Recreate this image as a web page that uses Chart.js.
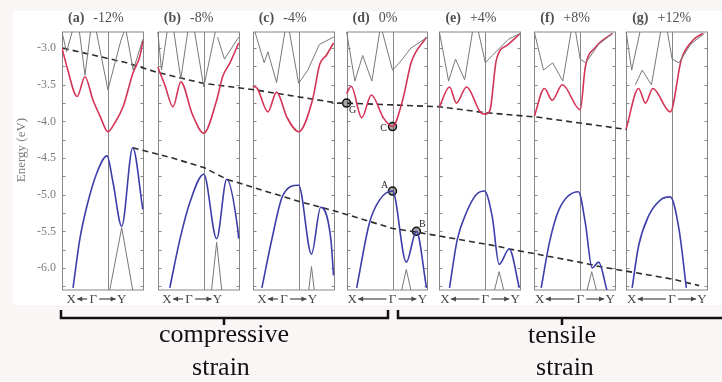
<!DOCTYPE html>
<html>
<head>
<meta charset="utf-8">
<script src="https://cdn.jsdelivr.net/npm/chart.js@4.4.1/dist/chart.umd.min.js"></script>
<style>
  html, body { margin: 0; padding: 0; background: #fbf6f6; }
  #wrap { position: relative; width: 722px; height: 382px; overflow: hidden; }
  #fig { position: absolute; left: 13px; top: 11px; width: 709px; height: 294px; background: #fff; }
  #c { position: absolute; left: 0; top: 0; }
  .lbl { position: absolute; width: 200px; text-align: center; font-family: "Liberation Serif", serif; font-size: 26px; line-height: 1; color: #111; }
</style>
</head>
<body>
<div id="wrap">
  <div id="fig"></div>
  <canvas id="c" width="722" height="382"></canvas>
  <div class="lbl" style="left:124px;top:321px">compressive</div>
  <div class="lbl" style="left:121px;top:354px">strain</div>
  <div class="lbl" style="left:462px;top:322px">tensile</div>
  <div class="lbl" style="left:465px;top:354px">strain</div>
</div>
<script>
// ─── Data ────────────────────────────────────────────────────────────────
// k runs X = 0 → Γ = 1 → Y = 1.76 inside each panel, energies in eV
const panelTitles = ['(a)', '(b)', '(c)', '(d)', '(e)', '(f)', '(g)'];
const strainLabels = ['-12%', '-8%', '-4%', '0%', '+4%', '+8%', '+12%'];
const energyTicks = [-3.0, -3.5, -4.0, -4.5, -5.0, -5.5, -6.0];

// valence band (blue)
const vbA = [[0.24,-6.27],[0.39,-5.6],[0.54,-5.16],[0.76,-4.70],[0.98,-4.47],[1.11,-4.83],[1.30,-5.43],[1.54,-4.36],[1.76,-5.2]];
const vbB = [[0.26,-6.27],[0.48,-5.61],[0.70,-5.1],[1.0,-4.72],[1.28,-5.6],[1.50,-4.79],[1.74,-5.47],[1.76,-5.6]];
const vbC = [[0.2,-6.27],[0.43,-5.57],[0.65,-5.02],[1.0,-4.87],[1.28,-5.81],[1.48,-5.17],[1.70,-5.6],[1.76,-6.1]];
const vbD = [[0.22,-6.27],[0.5,-5.38],[0.72,-5.07],[1.0,-4.95],[1.3,-5.92],[1.52,-5.5],[1.74,-6.27]];
const vbE = [[0.22,-6.27],[0.39,-5.61],[0.59,-5.24],[0.8,-5.0],[0.98,-4.95],[1.15,-5.3],[1.3,-5.95],[1.52,-5.74],[1.74,-6.27]];
const vbF = [[0.15,-6.27],[0.33,-5.65],[0.54,-5.2],[0.96,-4.96],[1.11,-5.38],[1.26,-6.0],[1.4,-5.92],[1.58,-6.3]];
const vbG = [[0.13,-6.27],[0.27,-5.7],[0.48,-5.3],[0.75,-5.07],[0.96,-5.03],[1.15,-5.47],[1.31,-6.27]];

// conduction band (red)
const cbA = [[0,-3.0],[0.11,-3.26],[0.33,-3.66],[0.5,-3.39],[0.67,-3.7],[0.83,-3.93],[1.0,-4.14],[1.15,-4.02],[1.33,-3.8],[1.54,-3.35],[1.7,-3.1],[1.76,-2.9]];
const cbB = [[0,-3.26],[0.15,-3.5],[0.33,-3.80],[0.50,-3.46],[0.75,-3.9],[1.0,-4.16],[1.28,-3.71],[1.41,-3.39],[1.57,-3.2],[1.76,-2.93]];
const cbC = [[0,-3.52],[0.1,-3.55],[0.33,-3.87],[0.52,-3.60],[0.75,-3.95],[1.0,-4.14],[1.3,-3.71],[1.46,-3.22],[1.6,-3.1],[1.76,-2.93]];
const cbD = [[0,-3.62],[0.1,-3.52],[0.33,-3.95],[0.54,-3.64],[0.8,-3.95],[1.0,-4.07],[1.22,-3.71],[1.41,-3.19],[1.74,-2.85]];
const cbE = [[0,-3.8],[0.22,-3.53],[0.37,-3.75],[0.59,-3.53],[0.9,-3.88],[1.0,-3.9],[1.1,-3.85],[1.24,-3.16],[1.5,-2.95],[1.76,-2.8]];
const cbF = [[0,-3.93],[0.22,-3.55],[0.39,-3.71],[0.61,-3.5],[1.0,-3.84],[1.11,-3.26],[1.33,-2.99],[1.70,-2.8]];
const cbG = [[0,-4.1],[0.27,-3.55],[0.42,-3.75],[0.58,-3.55],[0.96,-3.87],[1.2,-3.16],[1.46,-2.89],[1.67,-2.8]];

// higher conduction bands (grey)
const gtA = [[[0,-2.78],[0.1,-3.05],[0.22,-2.78]], [[0.38,-2.78],[0.5,-3.37],[0.62,-2.78]], [[0.75,-2.78],[1.0,-3.57],[1.28,-2.9],[1.35,-2.78]], [[1.4,-2.78],[1.55,-3.3],[1.76,-2.88]]];
const gtB = [[[0,-2.78],[0.08,-3.3],[0.2,-2.78]], [[0.35,-2.78],[0.5,-3.42],[0.65,-2.78]], [[0.8,-2.78],[1.0,-3.53],[1.25,-2.78]], [[1.3,-2.85],[1.45,-3.15],[1.76,-2.85]]];
const gtC = [[[0.05,-2.78],[0.25,-3.2],[0.33,-3.05],[0.52,-3.47],[0.7,-2.78]], [[0.8,-2.78],[1.0,-3.48],[1.2,-3.3],[1.45,-2.95],[1.76,-2.85]]];
const gtD = [[[0,-2.78],[0.18,-3.45],[0.35,-3.1],[0.55,-3.45],[0.72,-2.78]], [[0.78,-2.78],[1.0,-3.3],[1.15,-3.2],[1.4,-3.0],[1.76,-2.85]]];
const gtE = [[[0,-2.78],[0.2,-3.45],[0.35,-3.15],[0.55,-3.43],[0.72,-2.78]], [[0.85,-2.78],[1.0,-3.2],[1.15,-3.1],[1.5,-2.88],[1.76,-2.8]]];
const gtF = [[[0,-2.78],[0.2,-3.3],[0.4,-3.2],[0.62,-3.45],[0.8,-2.78]], [[0.9,-2.78],[1.0,-3.15],[1.12,-3.2],[1.4,-2.95],[1.7,-2.8]]];
const gtG = [[[0,-2.78],[0.12,-3.3],[0.3,-2.78]], [[0.2,-3.5],[0.35,-3.3],[0.55,-3.5],[0.75,-2.78]], [[0.9,-2.78],[1.0,-3.15],[1.15,-3.2],[1.4,-2.95],[1.7,-2.8]]];

// lower valence band (grey)
const glA = [[[1.04,-6.3],[1.30,-5.45],[1.54,-6.3]]];
const glB = [[[1.17,-6.3],[1.28,-5.65],[1.39,-6.3]]];
const glC = [[[1.22,-6.3],[1.28,-5.98],[1.34,-6.3]]];
const glD = [[[1.2,-6.3],[1.3,-6.02],[1.4,-6.3]]];
const glE = [[[1.2,-6.3],[1.3,-6.05],[1.4,-6.3]]];
const glF = [[[1.15,-6.3],[1.25,-6.05],[1.35,-6.3]]];
const glG = [];

// dashed guides across all panels: [figure x, E]
const cbmGuide = [[0.02,-3.0],[1.41,-3.2],[2.07,-3.33],[3.07,-3.48],[4.2,-3.57],[6.0,-3.75],[6.2,-3.75],[8.22,-3.80],[9.2,-3.88],[10.33,-3.94],[12.3,-4.11]];
const vbmGuide = [[1.54,-4.36],[2.41,-4.50],[3.09,-4.63],[3.59,-4.79],[5.15,-5.09],[5.63,-5.17],[6.04,-5.24],[7.2,-5.46],[7.72,-5.51],[9.46,-5.70],[9.74,-5.74],[11.26,-5.92],[11.7,-5.98],[13.28,-6.15],[13.87,-6.24]];

// marked points in panel (d): label, k, E
const markLabels = ['G', 'C', 'A', 'B'];
const markK = [0, 1.0, 1.0, 1.52];
const markE = [-3.75, -4.07, -4.95, -5.5];

// ─── Layout ─────────────────────────────────────────────────────────────
const panelOffsets = [0, 2.087, 4.152, 6.196, 8.217, 10.283, 12.283];
const kY = 1.76;
const E_MIN = -6.3, E_MAX = -2.78;
const BLUE = 'rgb(62,62,170)', RED = 'rgb(212,52,86)', GREY = 'rgb(120,120,120)';
const SERIF = '"Liberation Serif", serif';

const vbAll = [vbA, vbB, vbC, vbD, vbE, vbF, vbG];
const cbAll = [cbA, cbB, cbC, cbD, cbE, cbF, cbG];
const gtAll = [gtA, gtB, gtC, gtD, gtE, gtF, gtG];
const glAll = [glA, glB, glC, glD, glE, glF, glG];

function toXY(i, pts) {
  return pts.map(p => ({ x: panelOffsets[i] + p[0], y: p[1] }));
}

function lineSet(data, color, width, smooth) {
  return {
    data, showLine: true, borderColor: color, borderWidth: width,
    pointRadius: 0, fill: false,
    cubicInterpolationMode: smooth ? 'monotone' : 'default', tension: 0,
  };
}

const datasets = [];
for (let i = 0; i < 7; i++) {
  gtAll[i].forEach(seg => datasets.push(lineSet(toXY(i, seg), GREY, 1, false)));
  glAll[i].forEach(seg => datasets.push(lineSet(toXY(i, seg), GREY, 1, false)));
  datasets.push(lineSet(toXY(i, cbAll[i]), RED, 1.6, true));
  datasets.push(lineSet(toXY(i, vbAll[i]), BLUE, 1.6, true));
}
[cbmGuide, vbmGuide].forEach(g => {
  datasets.push({ ...lineSet(g.map(p => ({ x: p[0], y: p[1] })), 'rgb(45,45,45)', 1.6, false), borderDash: [6, 4] });
});
datasets.push({
  data: markK.map((k, j) => ({ x: panelOffsets[3] + k, y: markE[j] })),
  showLine: false, pointRadius: 4, pointBorderWidth: 1.5,
  pointBorderColor: '#111', pointBackgroundColor: 'rgba(60,60,60,0.45)',
});

// ─── Panel frames, ticks and labels ─────────────────────────────────────
function arrow(ctx, x1, x2, y) {
  const dir = Math.sign(x2 - x1);
  ctx.beginPath(); ctx.moveTo(x1, y); ctx.lineTo(x2, y); ctx.stroke();
  ctx.beginPath(); ctx.moveTo(x2, y); ctx.lineTo(x2 - dir * 5, y - 2.5); ctx.lineTo(x2 - dir * 5, y + 2.5); ctx.closePath(); ctx.fill();
}

const framePlugin = {
  id: 'frames',
  beforeDatasetsDraw(chart) {
    const { ctx, scales: { x, y } } = chart;
    const top = y.getPixelForValue(E_MAX), bot = y.getPixelForValue(E_MIN);
    ctx.save();
    ctx.strokeStyle = 'rgb(135,135,135)';
    ctx.lineWidth = 1;
    panelOffsets.forEach(off => {
      const l = Math.round(x.getPixelForValue(off)) + 0.5;
      const r = Math.round(x.getPixelForValue(off + kY)) + 0.5;
      const g = Math.round(x.getPixelForValue(off + 1)) + 0.5;
      ctx.strokeRect(l, top, r - l, bot - top);
      ctx.beginPath(); ctx.moveTo(g, top); ctx.lineTo(g, bot); ctx.stroke();
      for (let e = -3.0; e >= -6.25; e -= 0.25) {
        const py = Math.round(y.getPixelForValue(e)) + 0.5;
        ctx.beginPath();
        ctx.moveTo(l, py); ctx.lineTo(l + 3, py);
        ctx.moveTo(r, py); ctx.lineTo(r - 3, py);
        ctx.stroke();
      }
    });
    ctx.restore();
  },
  afterDraw(chart) {
    const { ctx, scales: { x, y } } = chart;
    ctx.save();
    // energy ticks
    ctx.fillStyle = 'rgb(125,125,125)';
    ctx.font = '12px ' + SERIF;
    ctx.textAlign = 'right'; ctx.textBaseline = 'middle';
    energyTicks.forEach(e => ctx.fillText(e.toFixed(1), 56, y.getPixelForValue(e)));
    ctx.save();
    ctx.translate(22, 150); ctx.rotate(-Math.PI / 2);
    ctx.textAlign = 'center';
    ctx.font = '13px ' + SERIF;
    ctx.fillText('Energy (eV)', 0, 0);
    ctx.restore();

    // panel titles and k labels
    ctx.textBaseline = 'alphabetic';
    panelOffsets.forEach((off, i) => {
      const l = x.getPixelForValue(off);
      ctx.fillStyle = 'rgb(80,80,80)';
      ctx.textAlign = 'left';
      ctx.font = 'bold 14px ' + SERIF;
      ctx.fillText(panelTitles[i], l + 6, 22);
      const w = ctx.measureText(panelTitles[i]).width;
      ctx.font = '14px ' + SERIF;
      ctx.fillText(strainLabels[i], l + 6 + w + 9, 22);

      const pos = i < 3 ? [0.2, 0.68, 1.3] : [0.12, 1.0, 1.65];
      const px = pos.map(k => x.getPixelForValue(off + k));
      const by = 303;
      ctx.fillStyle = 'rgb(70,70,70)';
      ctx.strokeStyle = 'rgb(70,70,70)';
      ctx.lineWidth = 1.2;
      ctx.font = '13px ' + SERIF;
      ctx.textAlign = 'center';
      ctx.fillText('X', px[0], by);
      ctx.fillText('Γ', px[1], by);
      ctx.fillText('Y', px[2], by);
      arrow(ctx, px[1] - 6, px[0] + 6, by - 4);
      arrow(ctx, px[1] + 6, px[2] - 6, by - 4);
    });

    // labels of the marked points
    ctx.fillStyle = 'rgb(40,40,40)';
    ctx.font = '10px ' + SERIF;
    ctx.textAlign = 'center';
    const shift = [[6, 10], [-9, 4], [-8, -3], [6, -4]];
    markLabels.forEach((t, j) => {
      ctx.fillText(t, x.getPixelForValue(panelOffsets[3] + markK[j]) + shift[j][0], y.getPixelForValue(markE[j]) + shift[j][1]);
    });

    // strain brackets
    ctx.strokeStyle = '#111';
    ctx.lineWidth = 2.5;
    ctx.beginPath();
    ctx.moveTo(61, 310); ctx.lineTo(61, 318); ctx.lineTo(388, 318); ctx.lineTo(388, 310);
    ctx.moveTo(224, 318); ctx.lineTo(224, 325);
    ctx.moveTo(398, 310); ctx.lineTo(398, 318); ctx.lineTo(722, 318);
    ctx.moveTo(562, 318); ctx.lineTo(562, 325);
    ctx.stroke();
    ctx.restore();
  },
};

new Chart(document.getElementById('c'), {
  type: 'scatter',
  data: { datasets },
  options: {
    responsive: false,
    animation: false,
    layout: { padding: { left: 62, right: 15, top: 32, bottom: 92 } },
    plugins: { legend: { display: false }, tooltip: { enabled: false } },
    scales: {
      x: { type: 'linear', min: 0, max: panelOffsets[6] + kY, display: false },
      y: { type: 'linear', min: E_MIN, max: E_MAX, display: false },
    },
  },
  plugins: [framePlugin],
});
</script>
</body>
</html>
